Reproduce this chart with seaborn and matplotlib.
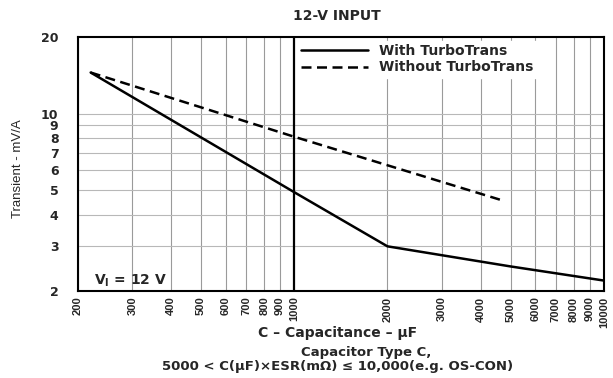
import matplotlib
matplotlib.use("Agg")
import matplotlib.pyplot as plt
import seaborn as sns
import pandas as pd
from matplotlib.ticker import FixedLocator, NullLocator

# Data
with_cap = [220, 1000, 2000, 5000, 10000]
with_val = [14.5, 4.9, 3.0, 2.5, 2.2]
without_cap = [220, 1000, 4700]
without_val = [14.5, 8.1, 4.55]

x_ticks = [200, 300, 400, 500, 600, 700, 800, 900, 1000,
           2000, 3000, 4000, 5000, 6000, 7000, 8000, 9000, 10000]
y_ticks = [2, 3, 4, 5, 6, 7, 8, 9, 10, 20]
y_grid = [3, 4, 5, 6, 7, 8, 9, 10]

df = pd.concat([
    pd.DataFrame({"C": with_cap, "T": with_val, "series": "With TurboTrans"}),
    pd.DataFrame({"C": without_cap, "T": without_val, "series": "Without TurboTrans"}),
])

sns.set_style("white")
plt.rcParams["font.family"] = ["DejaVu Sans"]

BOLD = ["DejaVu Sans", "Liberation Sans"]

fig = plt.figure(figsize=(6.13, 3.78), dpi=100)
ax = fig.add_axes([0.127, 0.230, 0.858, 0.672])

ax.set_xscale("log")
ax.set_yscale("log")
ax.set_xlim(200, 10000)
ax.set_ylim(2, 20)

# grid
for xv in x_ticks:
    if xv == 1000:
        ax.axvline(xv, color="black", lw=1.6, zorder=1)
    else:
        ax.axvline(xv, color="#9a9a9a", lw=0.8, zorder=0)
for yv in y_grid:
    ax.axhline(yv, color="#b8b8b8", lw=0.8, zorder=0)

sns.lineplot(data=df, x="C", y="T", style="series",
             style_order=["With TurboTrans", "Without TurboTrans"],
             dashes={"With TurboTrans": "", "Without TurboTrans": (4, 2.2)},
             color="black", lw=1.8, ax=ax, zorder=3, legend=True)

leg = ax.legend(loc="upper left", bbox_to_anchor=(0.418, 0.985),
                frameon=True, fancybox=False,
                edgecolor="white", facecolor="white", framealpha=1,
                prop={"family": BOLD, "weight": "bold", "size": 10},
                handlelength=4.8, handletextpad=0.8,
                borderaxespad=0.0, labelspacing=0.15, borderpad=0.25)
leg.set_zorder(4)

ax.xaxis.set_major_locator(FixedLocator(x_ticks))
ax.xaxis.set_minor_locator(NullLocator())
ax.set_xticklabels([str(v) for v in x_ticks], rotation=90,
                   fontsize=8, fontweight="bold", family="Liberation Sans")
ax.yaxis.set_major_locator(FixedLocator(y_ticks))
ax.yaxis.set_minor_locator(NullLocator())
ax.set_yticklabels([str(v) for v in y_ticks], fontsize=9,
                   fontweight="bold", family=BOLD)
ax.tick_params(axis="x", length=0, pad=4)
ax.tick_params(axis="y", length=0, pad=14)

for s in ax.spines.values():
    s.set_color("black")
    s.set_linewidth(1.5)

ax.set_xlabel("")
ax.set_ylabel("")
fig.text(0.030, 0.553, "Transient - mV/A", rotation=90, ha="center",
         va="center", fontsize=9.5,
         family=["Liberation Sans Narrow", "Liberation Sans"])

ax.text(226, 2.2, "V$_\\mathregular{I}$ = 12 V", fontsize=10,
        fontweight="bold", family=BOLD, ha="left", va="center", zorder=5)

fig.text(0.550, 0.957, "12-V INPUT", ha="center", va="center",
         fontsize=10, fontweight="bold", family=BOLD)
fig.text(0.550, 0.119, "C \u2013 Capacitance \u2013 \u00b5F", ha="center",
         va="center", fontsize=10, fontweight="bold", family=BOLD)
fig.text(0.598, 0.068, "Capacitor Type C,", ha="center", va="center",
         fontsize=9.5, fontweight="bold", family=BOLD)
fig.text(0.550, 0.030,
         "5000 < C(\u00b5F)\u00d7ESR(m\u03a9) \u2264 10,000(e.g. OS-CON)",
         ha="center", va="center", fontsize=9.5, fontweight="bold",
         family=BOLD)

fig.savefig("out.png", dpi=100)
